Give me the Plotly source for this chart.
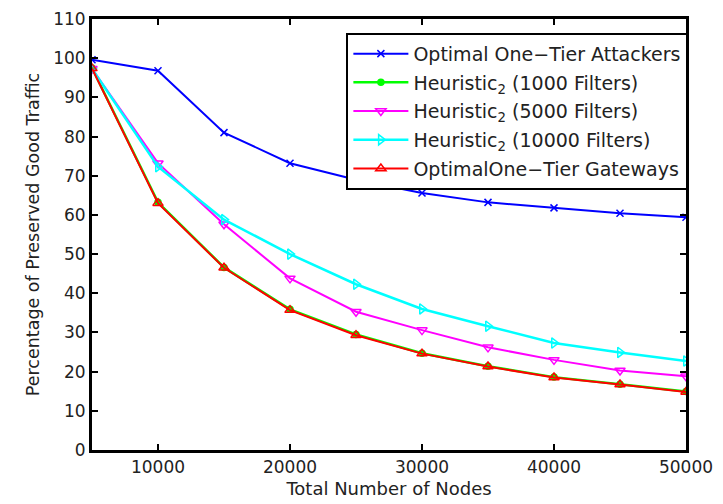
import plotly.graph_objects as go

nodes = [5000, 10000, 15000, 20000, 25000, 30000, 35000, 40000, 45000, 50000]
attackers = [99.6, 96.8, 81.0, 73.2, 69.0, 65.6, 63.2, 61.8, 60.4, 59.4]
h_1000 = [97.5, 63.2, 46.6, 35.9, 29.5, 24.7, 21.4, 18.6, 16.8, 14.9]
h_5000 = [97.3, 73.2, 57.6, 43.8, 35.3, 30.6, 26.2, 23.0, 20.3, 18.8]
h_10000 = [97.3, 72.3, 58.8, 50.0, 42.3, 36.0, 31.6, 27.3, 24.9, 22.7]
gateways = [97.4, 63.0, 46.5, 35.7, 29.3, 24.6, 21.3, 18.5, 16.7, 14.8]

names = [
    "Optimal One\u2212Tier Attackers",
    "Heuristic<sub>2</sub> (1000 Filters)",
    "Heuristic<sub>2</sub> (5000 Filters)",
    "Heuristic<sub>2</sub> (10000 Filters)",
    "OptimalOne\u2212Tier Gateways",
]

x_ticks = [10000, 20000, 30000, 40000, 50000]
x_ticktext = ["10000", "20000", "30000", "40000", "50000"]
y_ticks = list(range(0, 111, 10))

FONT = "DejaVu Sans, Liberation Sans, Arial"
TXT = "#222222"

series = [
    (attackers, "#0000ff", "x-thin-open", 7, 2),
    (h_1000, "#00ff00", "circle", 6, 2.5),
    (h_5000, "#ff00ff", "triangle-down-open", 9, 2),
    (h_10000, "#00ffff", "triangle-right-open", 9, 2.5),
    (gateways, "#ff0000", "triangle-up-open", 9, 2),
]

fig = go.Figure()
for i, ((vals, color, sym, size, lw), name) in enumerate(zip(series, names)):
    fig.add_trace(go.Scatter(
        x=nodes, y=vals, name=name, mode="lines+markers", legendgroup=f"g{i}",
        line=dict(color=color, width=lw),
        marker=dict(symbol=sym, size=size, color=color, line=dict(color=color, width=1.5)),
    ))

axis_common = dict(
    showline=True, linecolor="black", linewidth=3, mirror="ticks",
    ticks="inside", ticklen=6, tickwidth=2, tickcolor="black",
    showgrid=False, zeroline=False, automargin=False,
    tickfont=dict(family=FONT, size=17, color=TXT),
)

fig.update_layout(
    width=723, height=504,
    margin=dict(l=92, r=37, t=19, b=54),
    paper_bgcolor="white", plot_bgcolor="white",
    font=dict(family=FONT, size=17, color=TXT),
    xaxis=dict(range=[5000, 50000], tickvals=x_ticks, ticktext=x_ticktext,
               title=dict(text="Total Number of Nodes", standoff=6,
                          font=dict(family=FONT, size=18, color=TXT)),
               **axis_common),
    yaxis=dict(range=[0, 110], tickvals=y_ticks,
               title=dict(text="Percentage of Preserved Good Traffic", standoff=10,
                          font=dict(family=FONT, size=17.5, color=TXT)),
               **axis_common),
    legend=dict(
        x=1.004, xanchor="right", y=0.968, yanchor="top",
        bgcolor="white", bordercolor="black", borderwidth=2,
        font=dict(family=FONT, size=19, color=TXT),
        tracegroupgap=1, itemwidth=55,
    ),
)

fig.write_html("out.html")
